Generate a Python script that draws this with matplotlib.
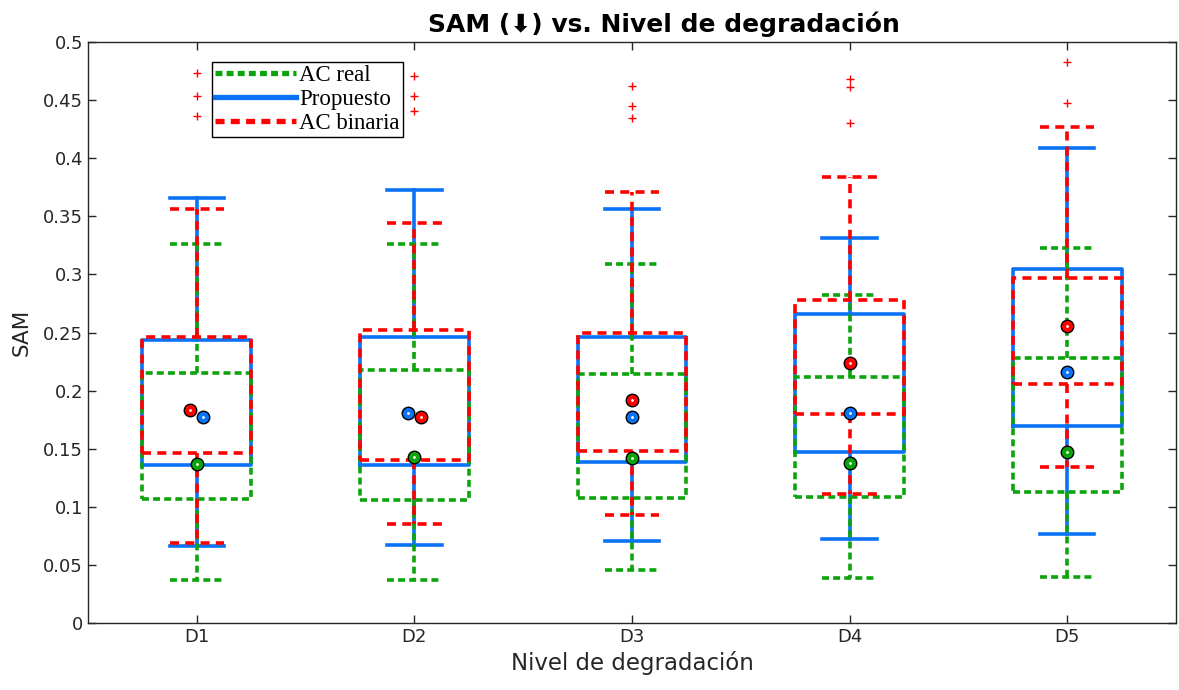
import matplotlib
matplotlib.use("Agg")
import matplotlib.pyplot as plt
from matplotlib.lines import Line2D

plt.rcParams["lines.scale_dashes"] = False
plt.rcParams["font.family"] = ["DejaVu Sans", "Noto Sans CJK SC"]

levels = ["D1", "D2", "D3", "D4", "D5"]

# AC real (green)
real_lo = [0.037, 0.037, 0.046, 0.0385, 0.040]
real_q1 = [0.107, 0.106, 0.108, 0.1087, 0.1127]
real_q3 = [0.215, 0.218, 0.214, 0.212, 0.228]
real_hi = [0.326, 0.326, 0.309, 0.282, 0.323]
real_mean = [0.137, 0.143, 0.142, 0.138, 0.147]

# Propuesto (blue)
prop_lo = [0.066, 0.067, 0.071, 0.072, 0.077]
prop_q1 = [0.136, 0.136, 0.139, 0.147, 0.1695]
prop_q3 = [0.2435, 0.246, 0.246, 0.266, 0.305]
prop_hi = [0.366, 0.373, 0.356, 0.331, 0.409]
prop_mean = [0.177, 0.1805, 0.177, 0.181, 0.216]

# AC binaria (red)
bin_lo = [0.069, 0.085, 0.093, 0.111, 0.134]
bin_q1 = [0.146, 0.140, 0.148, 0.180, 0.206]
bin_q3 = [0.246, 0.252, 0.250, 0.278, 0.297]
bin_hi = [0.356, 0.3445, 0.371, 0.384, 0.4266]
bin_mean = [0.183, 0.177, 0.192, 0.2235, 0.2556]

outliers = [
    [0.473, 0.454, 0.436],
    [0.471, 0.454, 0.441],
    [0.462, 0.445, 0.435],
    [0.468, 0.4616, 0.430],
    [0.483, 0.448],
]

GREEN = "#0ca40c"
BLUE = "#0a72f5"
RED = "#ff0000"

fig = plt.figure(figsize=(11.79, 6.9), dpi=100)
ax = fig.add_axes([0.0746, 0.097, 0.9229, 0.842])
pos = list(range(1, len(levels) + 1))


def stats(lo, q1, q3, hi, fl=None):
    return [dict(whislo=a, q1=b, med=b, q3=c, whishi=d,
                 fliers=(fl[i] if fl else []))
            for i, (a, b, c, d) in enumerate(zip(lo, q1, q3, hi))]


def draw(st, color, ls, z):
    lp = dict(color=color, linewidth=2.6, linestyle=ls)
    ax.bxp(st, positions=pos, widths=0.5, capwidths=0.25,
           boxprops=lp, whiskerprops=lp, capprops=lp,
           medianprops=dict(visible=False),
           flierprops=dict(marker="+", markeredgecolor=RED, markersize=6,
                           markeredgewidth=1, linestyle="none"),
           zorder=z, manage_ticks=False)


draw(stats(prop_lo, prop_q1, prop_q3, prop_hi), BLUE, "-", 3)
draw(stats(real_lo, real_q1, real_q3, real_hi), GREEN, (0, (5, 3)), 4)
draw(stats(bin_lo, bin_q1, bin_q3, bin_hi, outliers), RED, (0, (6.5, 4.5)), 5)

# mean markers (small horizontal nudge in D1/D2 so they don't overlap)
nudge_red = [-0.03, 0.03, 0, 0, 0]
nudge_blue = [0.03, -0.03, 0, 0, 0]
for means, col, nud in [(real_mean, GREEN, [0] * 5),
                        (prop_mean, BLUE, nudge_blue),
                        (bin_mean, RED, nudge_red)]:
    xs = [p + n for p, n in zip(pos, nud)]
    ax.plot(xs, means, "o", color=col, markeredgecolor="black",
            markersize=9, markeredgewidth=1.0, linestyle="none", zorder=6)
    ax.plot(xs, means, ".", color="white", markersize=2, zorder=7)

ax.set_xlim(0.5, 5.5)
ax.set_ylim(0, 0.5)
ax.set_xticks(pos)
ax.set_xticklabels(levels)
yt = [i * 0.05 for i in range(11)]
ax.set_yticks(yt)
ax.set_yticklabels([f"{v:g}" for v in [round(t, 2) for t in yt]])
ax.tick_params(direction="in", top=True, right=True, length=6,
               labelsize=13, colors="#262626", width=1)
for s in ax.spines.values():
    s.set_color("#262626")
    s.set_linewidth(1)

ax.set_xlabel("Nivel de degradación", fontsize=16.5, color="#262626", labelpad=4)
ax.set_ylabel("SAM", fontsize=15.5, color="#262626", labelpad=8)
ax.set_title("SAM (\u2b07) vs. Nivel de degradación", fontsize=18,
             fontweight="bold", pad=7, x=0.529)

handles = [
    Line2D([], [], color=GREEN, lw=3.8, ls=(0, (5, 3))),
    Line2D([], [], color=BLUE, lw=3.8, ls="-"),
    Line2D([], [], color=RED, lw=3.8, ls=(0, (6.5, 4.5))),
]
leg = ax.legend(handles, ["AC real", "Propuesto", "AC binaria"],
                loc="upper left", bbox_to_anchor=(0.114, 0.966),
                prop=dict(family="Liberation Serif", size=16.5),
                fancybox=False, edgecolor="black", framealpha=1,
                handlelength=3.5, handletextpad=0.15, borderpad=0.15,
                labelspacing=0.12, borderaxespad=0)
leg.get_frame().set_linewidth(1)

fig.savefig("out.png", dpi=100)
